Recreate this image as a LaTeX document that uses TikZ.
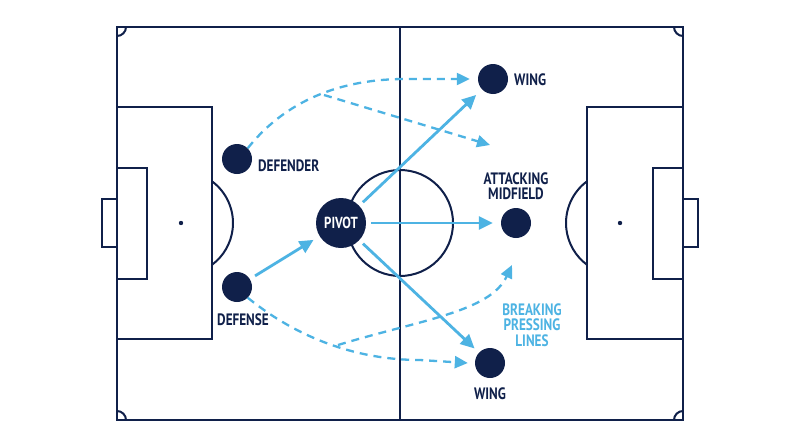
\documentclass[tikz,border=0pt]{standalone}
\usepackage{fontspec}
\setmainfont{PT Sans}[FakeStretch=0.8]
\usetikzlibrary{arrows.meta}
\definecolor{navy}{HTML}{10204A}
\definecolor{sky}{HTML}{4DB3E3}
\tikzset{
  pitch/.style={draw=navy, line width=2pt},
  player/.style={circle, fill=navy, minimum size=30pt, inner sep=0pt},
  lbl/.style={font=\bfseries\fontsize{16.5}{15.5}\selectfont, text=navy, inner sep=0pt},
  pass/.style={draw=sky, line width=2.8pt, -{Triangle[length=14pt,width=13pt]}},
  run/.style={draw=sky, line width=2.3pt, dash pattern=on 8pt off 6pt, -{Triangle[length=13pt,width=12pt]}},
}
\begin{document}
\begin{tikzpicture}[x=1pt,y=-1pt]
\useasboundingbox (0,0) rectangle (800,447);
\fill[white] (0,0) rectangle (800,447);
% pitch
\draw[pitch] (117,27) rectangle (683,420);
\draw[pitch] (400,27) -- (400,420);
\draw[pitch] (400,223) circle (53);
% left side
\draw[pitch] (117,107) rectangle (212,339);
\draw[pitch] (117,168) rectangle (147,279);
\draw[pitch] (117,199) -- (102,199) -- (102,247) -- (117,247);
\fill[navy] (181,223) circle (2.2);
\draw[pitch] (212,181.3) arc[start angle=-53.4, end angle=53.4, radius=52];
% right side
\draw[pitch] (683,107) rectangle (587,339);
\draw[pitch] (683,168) rectangle (653,279);
\draw[pitch] (683,199) -- (698,199) -- (698,247) -- (683,247);
\fill[navy] (620,223) circle (2.2);
\draw[pitch] (587,181.3) arc[start angle=233.4, end angle=126.6, radius=52];
% corners
\draw[pitch] (126,27) arc[start angle=0, end angle=90, radius=9];
\draw[pitch] (117,411) arc[start angle=270, end angle=360, radius=9];
\draw[pitch] (683,36) arc[start angle=90, end angle=180, radius=9];
\draw[pitch] (674,420) arc[start angle=180, end angle=270, radius=9];

% players
\node[player] (defender) at (237,159) {};
\node[player] (defense) at (237,287) {};
\node[player, minimum size=50pt, text=white, font=\bfseries\fontsize{16}{16}\selectfont] (pivot) at (341,223) {PIVOT};
\node[player] (wingtop) at (493,79) {};
\node[player] (am) at (516,223) {};
\node[player] (wingbot) at (490,363) {};

% labels
\node[lbl, anchor=west] (ldefender) at (258,166) {DEFENDER};
\node[lbl] (ldefense) at (243,320) {DEFENSE};
\node[lbl, anchor=west] (lwingtop) at (514,80) {WING};
\node[lbl, align=center] (lam) at (516,186) {ATTACKING\\MIDFIELD};
\node[lbl] (lwingbot) at (490,394) {WING};
\node[lbl, text=sky, align=center] (lbreak) at (532,325) {BREAKING\\PRESSING\\LINES};

% solid passes
\draw[pass, shorten <=6pt, shorten >=7pt] (defense) -- (pivot);
\draw[pass, shorten <=5pt, shorten >=8pt] (pivot) -- (wingtop);
\draw[pass, shorten <=5pt, shorten >=8pt] (pivot) -- (am);
\draw[pass, shorten <=5pt, shorten >=6pt] (pivot) -- (wingbot);

% dashed runs
\coordinate (topsplit) at (324,95);
\coordinate (toptarget) at (490,145);
\coordinate (botsplit) at (338,345);
\coordinate (bottarget) at (512,265);
\draw[run] (defender.45) .. controls (290,95) and (350,79) .. (405,79) -- ([xshift=-8pt]wingtop.west);
\draw[run] (topsplit) -- (toptarget);
\draw[run] (defense.-45) .. controls (300,340) and (360,360) .. (420,360) -- ([xshift=-7pt]wingbot.west);
\draw[run] (botsplit) .. controls (420,320) and (490,312) .. (bottarget);
\end{tikzpicture}
\end{document}
